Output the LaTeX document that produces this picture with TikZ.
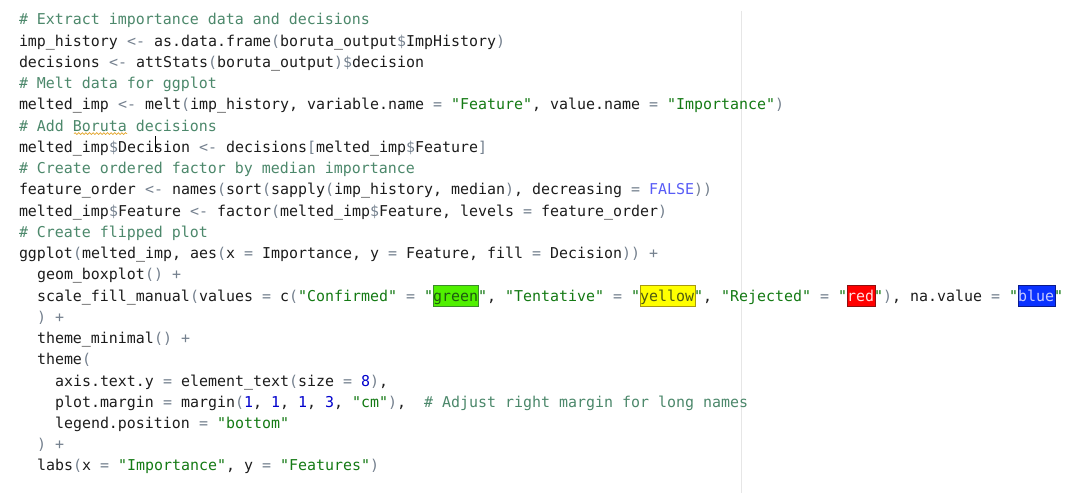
\documentclass[tikz,border=0pt]{standalone}
\usepackage{fontspec}
\usetikzlibrary{decorations.pathmorphing}
\newfontfamily\codefont{DejaVu Sans Mono}
\definecolor{plain}{HTML}{1C1C1C}
\definecolor{cmt}{HTML}{4C886B}
\definecolor{str}{HTML}{147A14}
\definecolor{num}{HTML}{0000CD}
\definecolor{opc}{HTML}{74808E}
\definecolor{kw}{HTML}{585CF6}
\definecolor{sep}{HTML}{E6E6E6}
\definecolor{wavy}{HTML}{E3A52A}
\definecolor{gfill}{HTML}{50F000}
\definecolor{gdraw}{HTML}{3A8C2A}
\definecolor{gtext}{HTML}{1E5A10}
\definecolor{yfill}{HTML}{FFFF00}
\definecolor{ydraw}{HTML}{A89A10}
\definecolor{ytext}{HTML}{4E5A12}
\definecolor{rfill}{HTML}{FF0000}
\definecolor{rdraw}{HTML}{8C1010}
\definecolor{rtext}{HTML}{FFE2E2}
\definecolor{bfill}{HTML}{0A32FF}
\definecolor{bdraw}{HTML}{0A1A8C}
\definecolor{btext}{HTML}{C8CCFF}
\newcommand\cCmt[1]{\textcolor{cmt}{#1}}
\newcommand\cStr[1]{\textcolor{str}{#1}}
\newcommand\cNum[1]{\textcolor{num}{#1}}
\newcommand\cOp[1]{\textcolor{opc}{#1}}
\newcommand\cPar[1]{\textcolor{opc}{#1}}
\newcommand\cKw[1]{\textcolor{kw}{#1}}
\frenchspacing
\begin{document}
\begin{tikzpicture}[x=1pt,y=-1pt,
  code/.style={inner sep=0pt, outer sep=0pt, anchor=base west, text=plain,
    font=\codefont\fontsize{14.95}{21.24}\selectfont},
  hlbox/.style={line width=0.8pt}]
\useasboundingbox[fill=white] (0,0) rectangle (1078,497);
% separator of the editor margin
\coordinate (s1) at (741.5,11);
\coordinate (s2) at (741.5,493);
\draw[sep, line width=1pt] (s1) -- (s2);
% colour previews (line 14, baseline 301.0)
\filldraw[hlbox, fill=gfill, draw=gdraw] (433,285) rectangle (478,306);
\filldraw[hlbox, fill=yfill, draw=ydraw] (640,285) rectangle (695,306);
\filldraw[hlbox, fill=rfill, draw=rdraw] (847,285) rectangle (875,306);
\filldraw[hlbox, fill=bfill, draw=bdraw] (1018,285) rectangle (1055,306);
% spell-check underline under Boruta
\coordinate (w1) at (74,133.6);
\coordinate (w2) at (127,133.6);
\draw[wavy, line width=0.7pt, decorate, decoration={snake, amplitude=0.9pt, segment length=3.6pt}] (w1) -- (w2);
% code lines
\node[code] (L1) at (19,24.9) {\cCmt{\# Extract importance data and decisions}};
\node[code] (L2) at (19,46.1) {imp\_history \cOp{<-} as.data.frame\cPar{(}boruta\_output\cOp{\$}ImpHistory\cPar{)}};
\node[code] (L3) at (19,67.4) {decisions \cOp{<-} attStats\cPar{(}boruta\_output\cPar{)}\cOp{\$}decision};
\node[code] (L4) at (19,88.6) {\cCmt{\# Melt data for ggplot}};
\node[code] (L5) at (19,109.9) {melted\_imp \cOp{<-} melt\cPar{(}imp\_history, variable.name \cOp{=} \cStr{"Feature"}, value.name \cOp{=} \cStr{"Importance"}\cPar{)}};
\node[code] (L6) at (19,131.1) {\cCmt{\# Add Boruta decisions}};
\node[code] (L7) at (19,152.3) {melted\_imp\cOp{\$}Decision \cOp{<-} decisions\cPar{[}melted\_imp\cOp{\$}Feature\cPar{]}};
\node[code] (L8) at (19,173.6) {\cCmt{\# Create ordered factor by median importance}};
\node[code] (L9) at (19,194.8) {feature\_order \cOp{<-} names\cPar{(}sort\cPar{(}sapply\cPar{(}imp\_history, median\cPar{)}, decreasing \cOp{=} \cKw{FALSE}\cPar{))}};
\node[code] (L10) at (19,216.1) {melted\_imp\cOp{\$}Feature \cOp{<-} factor\cPar{(}melted\_imp\cOp{\$}Feature, levels \cOp{=} feature\_order\cPar{)}};
\node[code] (L11) at (19,237.3) {\cCmt{\# Create flipped plot}};
\node[code] (L12) at (19,258.5) {ggplot\cPar{(}melted\_imp, aes\cPar{(}x \cOp{=} Importance, y \cOp{=} Feature, fill \cOp{=} Decision\cPar{))} \cOp{+}};
\node[code] (L13) at (37,279.8) {geom\_boxplot\cPar{()} \cOp{+}};
\node[code] (L14) at (37,301.0) {scale\_fill\_manual\cPar{(}values \cOp{=} c\cPar{(}\cStr{"Confirmed"} \cOp{=} \cStr{"}\textcolor{gtext}{green}\cStr{"}, \cStr{"Tentative"} \cOp{=} \cStr{"}\textcolor{ytext}{yellow}\cStr{"}, \cStr{"Rejected"} \cOp{=} \cStr{"}\textcolor{rtext}{red}\cStr{"}\cPar{)}, na.value \cOp{=} \cStr{"}\textcolor{btext}{blue}\cStr{"}};
\node[code] (L15) at (37,322.3) {\cPar{)} \cOp{+}};
\node[code] (L16) at (37,343.5) {theme\_minimal\cPar{()} \cOp{+}};
\node[code] (L17) at (37,364.7) {theme\cPar{(}};
\node[code] (L18) at (55,386.0) {axis.text.y \cOp{=} element\_text\cPar{(}size \cOp{=} \cNum{8}\cPar{)},};
\node[code] (L19) at (55,407.2) {plot.margin \cOp{=} margin\cPar{(}\cNum{1}, \cNum{1}, \cNum{1}, \cNum{3}, \cStr{"cm"}\cPar{)},\ \ \cCmt{\# Adjust right margin for long names}};
\node[code] (L20) at (55,428.5) {legend.position \cOp{=} \cStr{"bottom"}};
\node[code] (L21) at (37,449.7) {\cPar{)} \cOp{+}};
\node[code] (L22) at (37,470.9) {labs\cPar{(}x \cOp{=} \cStr{"Importance"}, y \cOp{=} \cStr{"Features"}\cPar{)}};
% text cursor
\coordinate (c1) at (155.5,136.5);
\coordinate (c2) at (155.5,152.5);
\draw[black, line width=1.6pt] (c1) -- (c2);
\end{tikzpicture}
\end{document}
